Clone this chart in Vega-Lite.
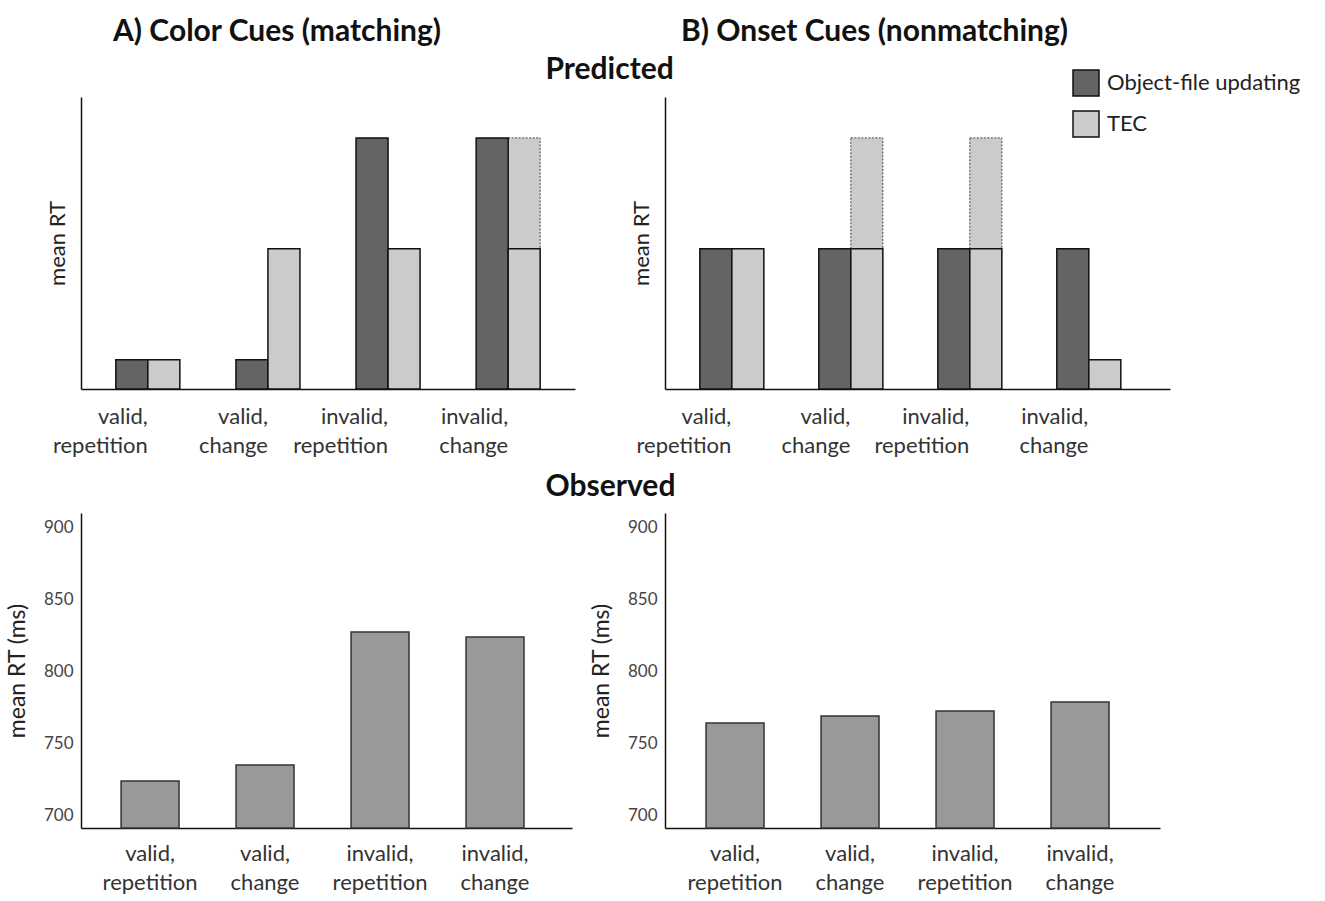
{
  "$schema": "https://vega.github.io/schema/vega-lite/v6.json",
  "background": "white",
  "padding": {"left": 6, "top": 17, "right": 5, "bottom": 5},
  "config": {
    "font": "Lato",
    "view": {"stroke": null},
    "axis": {"grid": false, "domainColor": "#111", "domainWidth": 1.5, "labelFont": "Lato", "titleFont": "Lato", "titleFontWeight": "normal", "titleColor": "#222", "labelColor": "#333"},
    "title": {"font": "Lato", "fontWeight": "bold", "color": "#111"}
  },
  "title": {"text": "Predicted", "anchor": "start", "frame": "bounds", "dx": 539, "dy": 72, "fontSize": 30},
  "datasets": {
    "predA": [
      {"cond": "valid, repetition", "model": "Object-file updating", "value": 10},
      {"cond": "valid, repetition", "model": "TEC", "value": 10},
      {"cond": "valid, change", "model": "Object-file updating", "value": 10},
      {"cond": "valid, change", "model": "TEC", "value": 48},
      {"cond": "invalid, repetition", "model": "Object-file updating", "value": 86},
      {"cond": "invalid, repetition", "model": "TEC", "value": 48},
      {"cond": "invalid, change", "model": "Object-file updating", "value": 86},
      {"cond": "invalid, change", "model": "TEC", "value": 48, "ext": 86}
    ],
    "predB": [
      {"cond": "valid, repetition", "model": "Object-file updating", "value": 48},
      {"cond": "valid, repetition", "model": "TEC", "value": 48},
      {"cond": "valid, change", "model": "Object-file updating", "value": 48},
      {"cond": "valid, change", "model": "TEC", "value": 48, "ext": 86},
      {"cond": "invalid, repetition", "model": "Object-file updating", "value": 48},
      {"cond": "invalid, repetition", "model": "TEC", "value": 48, "ext": 86},
      {"cond": "invalid, change", "model": "Object-file updating", "value": 48},
      {"cond": "invalid, change", "model": "TEC", "value": 10}
    ],
    "obsA": [
      {"cond": "valid, repetition", "rt": 723.6},
      {"cond": "valid, change", "rt": 734.7},
      {"cond": "invalid, repetition", "rt": 827.1},
      {"cond": "invalid, change", "rt": 823.6}
    ],
    "obsB": [
      {"cond": "valid, repetition", "rt": 763.9},
      {"cond": "valid, change", "rt": 768.7},
      {"cond": "invalid, repetition", "rt": 772.2},
      {"cond": "invalid, change", "rt": 778.5}
    ]
  },
  "columns": 2,
  "bounds": "flush",
  "spacing": {"row": 124, "column": 90},
  "resolve": {"scale": {"color": "independent", "x": "independent", "y": "independent"}},
  "concat": [
    {
      "width": 494, "height": 292,
      "title": {"text": "A) Color Cues (matching)", "frame": "group", "anchor": "middle", "dx": -51, "offset": 50, "fontSize": 30},
      "data": {"name": "predA"},
      "layer": [
        {
          "transform": [{"filter": "isValid(datum.ext)"}],
          "mark": {"type": "bar", "fill": "#cbcbcb", "stroke": "#444", "strokeDash": [2, 1.5], "strokeWidth": 1},
          "encoding": {
            "x": {"field": "cond", "type": "nominal", "sort": ["valid, repetition", "valid, change", "invalid, repetition", "invalid, change"]},
            "xOffset": {"field": "model", "type": "nominal"},
            "y": {"field": "value", "type": "quantitative"},
            "y2": {"field": "ext"}
          }
        },
        {
          "mark": {"type": "bar", "stroke": "#111", "strokeWidth": 1.5},
          "encoding": {
            "x": {"field": "cond", "type": "nominal",
              "scale": {"domain": ["valid, repetition", "valid, change", "invalid, repetition", "invalid, change"], "paddingInner": 0.467, "paddingOuter": 0.29, "align": 0.5},
              "axis": {"title": null, "labelExpr": "split(datum.label, ' ')", "labelAngle": 0, "ticks": false, "tickSize": 0, "labelFontSize": 22, "labelPadding": 17, "labelLineHeight": 29, "labelBaseline": "top"}},
            "xOffset": {"field": "model", "type": "nominal", "scale": {"domain": ["Object-file updating", "TEC"], "paddingInner": 0, "paddingOuter": 0}},
            "y": {"field": "value", "type": "quantitative", "scale": {"domain": [0, 100], "nice": false},
              "axis": {"title": "mean RT", "labels": false, "ticks": false, "tickSize": 0, "titleFontSize": 22, "titlePadding": 12}},
            "color": {"field": "model", "type": "nominal", "scale": {"domain": ["Object-file updating", "TEC"], "range": ["#646464", "#cbcbcb"]}, "legend": null}
          }
        }
      ]
    },
    {
      "width": 505, "height": 292,
      "title": {"text": "B) Onset Cues (nonmatching)", "frame": "group", "anchor": "middle", "dx": -43, "offset": 22, "fontSize": 30},
      "data": {"name": "predB"},
      "layer": [
        {
          "transform": [{"filter": "isValid(datum.ext)"}],
          "mark": {"type": "bar", "fill": "#cbcbcb", "stroke": "#444", "strokeDash": [2, 1.5], "strokeWidth": 1},
          "encoding": {
            "x": {"field": "cond", "type": "nominal", "sort": ["valid, repetition", "valid, change", "invalid, repetition", "invalid, change"]},
            "xOffset": {"field": "model", "type": "nominal"},
            "y": {"field": "value", "type": "quantitative"},
            "y2": {"field": "ext"}
          }
        },
        {
          "mark": {"type": "bar", "stroke": "#111", "strokeWidth": 1.5},
          "encoding": {
            "x": {"field": "cond", "type": "nominal",
              "scale": {"domain": ["valid, repetition", "valid, change", "invalid, repetition", "invalid, change"], "paddingInner": 0.47, "paddingOuter": 0.357, "align": 0.41},
              "axis": {"title": null, "labelExpr": "split(datum.label, ' ')", "labelAngle": 0, "ticks": false, "tickSize": 0, "labelFontSize": 22, "labelPadding": 17, "labelLineHeight": 29, "labelBaseline": "top"}},
            "xOffset": {"field": "model", "type": "nominal", "scale": {"domain": ["Object-file updating", "TEC"], "paddingInner": 0, "paddingOuter": 0}},
            "y": {"field": "value", "type": "quantitative", "scale": {"domain": [0, 100], "nice": false},
              "axis": {"title": "mean RT", "labels": false, "ticks": false, "tickSize": 0, "titleFontSize": 22, "titlePadding": 12}},
            "color": {"field": "model", "type": "nominal", "scale": {"domain": ["Object-file updating", "TEC"], "range": ["#646464", "#cbcbcb"]},
              "legend": {"orient": "none", "legendX": 407, "legendY": -28, "title": null, "symbolType": "square", "symbolSize": 676, "symbolStrokeColor": "#111", "symbolStrokeWidth": 1.5, "labelFontSize": 22, "labelLimit": 400, "labelColor": "#222", "rowPadding": 9, "labelOffset": 7, "padding": 0}}
          }
        }
      ]
    },
    {
      "width": 491, "height": 315,
      "title": {"text": "Observed", "frame": "group", "anchor": "middle", "dx": 284, "offset": 11, "fontSize": 30},
      "data": {"name": "obsA"},
      "mark": {"type": "bar", "fill": "#999999", "stroke": "#333", "strokeWidth": 1.5},
      "encoding": {
        "x": {"field": "cond", "type": "nominal",
          "scale": {"domain": ["valid, repetition", "valid, change", "invalid, repetition", "invalid, change"], "paddingInner": 0.496, "paddingOuter": 0.383, "align": 0.455},
          "axis": {"title": null, "labelExpr": "split(datum.label, ' ')", "labelAngle": 0, "ticks": false, "tickSize": 0, "labelFontSize": 22, "labelPadding": 15, "labelLineHeight": 29, "labelBaseline": "top"}},
        "y": {"field": "rt", "type": "quantitative", "scale": {"domain": [691, 909.75], "nice": false, "zero": false, "clamp": true},
          "axis": {"title": "mean RT (ms)", "values": [700, 750, 800, 850, 900], "ticks": false, "tickSize": 0, "labelPadding": 8, "labelFontSize": 17, "labelColor": "#444", "titleFontSize": 23, "titlePadding": 14}}
      }
    },
    {
      "width": 495, "height": 315,
      "data": {"name": "obsB"},
      "mark": {"type": "bar", "fill": "#999999", "stroke": "#333", "strokeWidth": 1.5},
      "encoding": {
        "x": {"field": "cond", "type": "nominal",
          "scale": {"domain": ["valid, repetition", "valid, change", "invalid, repetition", "invalid, change"], "paddingInner": 0.496, "paddingOuter": 0.4, "align": 0.446},
          "axis": {"title": null, "labelExpr": "split(datum.label, ' ')", "labelAngle": 0, "ticks": false, "tickSize": 0, "labelFontSize": 22, "labelPadding": 15, "labelLineHeight": 29, "labelBaseline": "top"}},
        "y": {"field": "rt", "type": "quantitative", "scale": {"domain": [691, 909.75], "nice": false, "zero": false, "clamp": true},
          "axis": {"title": "mean RT (ms)", "values": [700, 750, 800, 850, 900], "ticks": false, "tickSize": 0, "labelPadding": 8, "labelFontSize": 17, "labelColor": "#444", "titleFontSize": 23, "titlePadding": 14}}
      }
    }
  ]
}
